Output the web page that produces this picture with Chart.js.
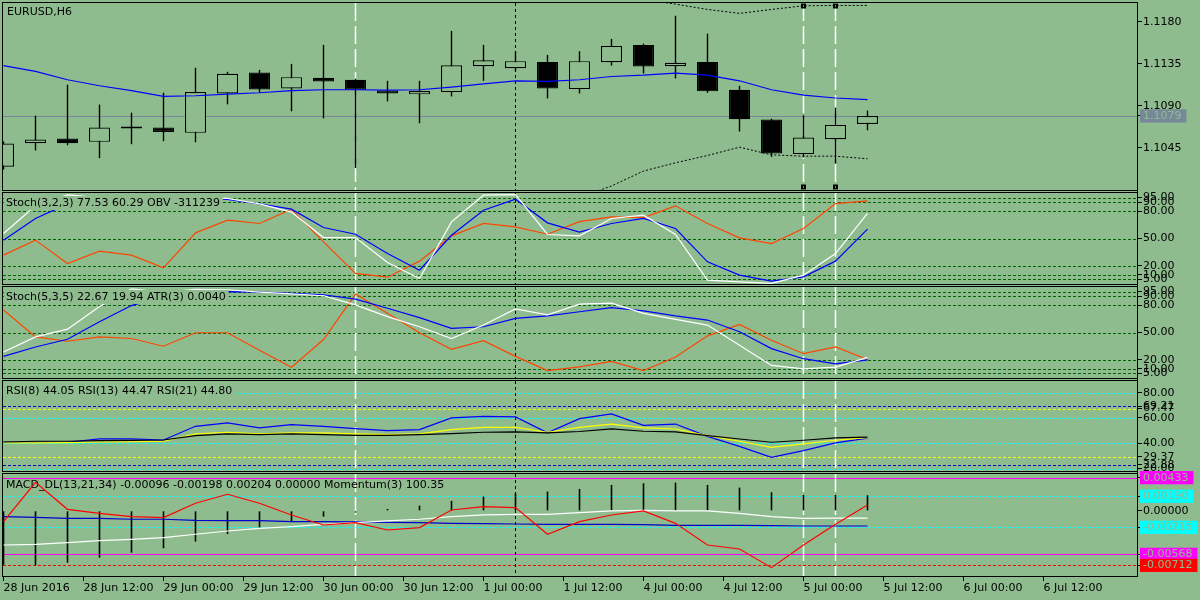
<!DOCTYPE html>
<html><head><meta charset="utf-8">
<script src="https://cdn.jsdelivr.net/npm/chart.js@4.4.1/dist/chart.umd.min.js"></script>
<style>
html,body{margin:0;padding:0;background:#8fbc8f;width:1200px;height:600px;overflow:hidden}
canvas{position:absolute;left:0;top:0}
</style></head><body>
<canvas id="c1" width="1200" height="600"></canvas>
<canvas id="c2" width="1200" height="600"></canvas>
<canvas id="c3" width="1200" height="600"></canvas>
<canvas id="c4" width="1200" height="600"></canvas>
<canvas id="c5" width="1200" height="600"></canvas>
<script>
// ---------- data ----------
const timeLabels = ['28 Jun 2016','28 Jun 12:00','29 Jun 00:00','29 Jun 12:00','30 Jun 00:00','30 Jun 12:00','1 Jul 00:00','1 Jul 12:00','4 Jul 00:00','4 Jul 12:00','5 Jul 00:00','5 Jul 12:00','6 Jul 00:00','6 Jul 12:00'];
const opens  = [1.10249,1.10501,1.10550,1.10515,1.10660,1.10668,1.10611,1.11033,1.11257,1.11086,1.11200,1.11179,1.11065,1.11023,1.11047,1.11324,1.11303,1.11370,1.11079,1.11367,1.11552,1.11324,1.11370,1.11072,1.10753,1.10384,1.10543,1.10707];
const highs  = [1.10520,1.10795,1.11126,1.10913,1.10827,1.11040,1.11307,1.11264,1.11285,1.11349,1.11552,1.11190,1.11168,1.11168,1.11701,1.11552,1.11484,1.11445,1.11484,1.11615,1.11566,1.11864,1.11672,1.11115,1.10763,1.10799,1.10881,1.10849];
const lows   = [1.10220,1.10423,1.10479,1.10341,1.10490,1.10522,1.10511,1.10916,1.11040,1.10842,1.10767,1.10234,1.10948,1.10714,1.11001,1.11168,1.11270,1.10980,1.11033,1.11331,1.11246,1.11193,1.11040,1.10625,1.10355,1.10348,1.10284,1.10639];
const closes = [1.10497,1.10540,1.10501,1.10668,1.10657,1.10621,1.11047,1.11243,1.11076,1.11207,1.11161,1.11072,1.11033,1.11058,1.11335,1.11388,1.11378,1.11086,1.11378,1.11541,1.11321,1.11360,1.11055,1.10756,1.10391,1.10561,1.10696,1.10792];
const maLine = [1.11331,1.11268,1.11179,1.11115,1.11062,1.11001,1.11008,1.11026,1.11040,1.11062,1.11072,1.11072,1.11069,1.11072,1.11101,1.11136,1.11168,1.11161,1.11179,1.11214,1.11228,1.11250,1.11228,1.11168,1.11072,1.11015,1.10984,1.10966];
const bandUpper = [null,null,null,null,null,null,null,null,null,null,null,null,null,null,null,null,null,null,null,1.12138,1.12038,1.11988,1.11931,1.11889,1.11931,1.11970,1.11974,1.11974];
const bandLower = [null,null,null,null,null,null,null,null,null,null,null,null,null,null,null,null,null,null,1.09919,1.10043,1.10203,1.10291,1.10369,1.10458,1.10376,1.10362,1.10362,1.10334];
const priceTicks = [1.1180,1.1135,1.1090,1.1045];

const stochA_main   = [55.5,85.9,98,95,95,95,95,94,88,79,51,51,23.6,6,68.3,97.6,98.3,54.4,53,72,75.6,54.4,4.2,2.4,0.6,9.7,33.5,77.53];
const stochA_signal = [48.2,72,88,92,94,95,95,93,88,82.2,62.1,54.7,33.5,15.2,53.6,81.1,93.2,67.2,57,66.5,72,61,24.4,9.7,3.1,7.9,25.1,60.29];
const stochA_obv    = [31.7,48.2,22.5,36.1,31.7,17.8,56.2,70.1,66.5,82.2,46.3,11.6,7.5,25.1,52.9,66.5,62.8,54.7,68.5,73.7,73,85.9,66.5,50.7,44.5,61,88.4,91.3];
const stochB_main   = [28.6,45.2,53.7,78.5,98,94,97.5,97,94.4,92.5,90.4,80.4,67.4,56.3,43.4,58.2,75.9,69.3,81.1,82.2,71.1,64.5,58.2,36,13.8,10.1,11.9,22.67];
const stochB_signal = [23.8,34.1,42.6,61.9,79.6,90,94,95,94.4,93,91.5,86.7,76.7,66.3,54.5,56.3,65.6,68.2,72.8,77.4,73.7,68.2,63.7,50.8,32.3,21.2,15.6,19.94];
const stochB_atr    = [74.8,45.2,40.4,45.2,43.4,34.9,49.7,49.7,30.4,11.9,42.3,92.2,71.1,49.7,31.5,41.1,23.8,8.2,12.3,18.2,8.2,23,46.3,58.9,41.5,26.7,34.1,20.4];
const stochLevels = [95,90,80,50,20,10,5];

const rsi8  = [40.8,40.8,40.8,43.4,43.4,42.6,53.4,56.1,52.1,54.7,53.4,51.6,50,50.8,60,61.3,60.8,48.2,59.5,63.2,54.2,55.2,45.5,37.6,28.9,34.2,40.3,44.05];
const rsi13 = [40.3,40.3,40.5,41,41.2,41.6,47.4,48.7,47.4,48.2,48.2,47.4,46.8,47.4,50.8,52.6,52.6,48.7,52.6,55.2,52.1,51.3,46,41.6,36.8,39.5,42.4,44.47];
const rsi21 = [41,41.6,41.6,42.1,42.3,42.6,46,47.4,46.8,47.4,46.8,46.3,46.3,46.8,47.6,48.7,49,48.2,49.3,51.3,49.5,49,46,43.4,40.8,42.4,44.2,44.8];
const rsiCyanLevels = [80,60,40,20];
const rsiBlueLevels = [69.21,22.88];
const rsiYellowLevels = [67.47,29.37];

const macdHist  = [-0.00705,-0.00712,-0.00677,-0.00611,-0.00546,-0.00489,-0.00402,-0.00302,-0.00219,-0.00141,-0.00076,-0.00023,0.00025,0.00068,0.00129,0.00186,0.00229,0.00251,0.00286,0.00338,0.00360,0.00369,0.00338,0.00303,0.00242,0.00207,0.00207,0.00204];
const macdRed   = [-0.00141,0.00373,0.00020,-0.00032,-0.00076,-0.00089,0.00099,0.00216,0.00099,-0.00054,-0.00185,-0.00154,-0.00250,-0.00219,0.00011,0.00055,0.00042,-0.00306,-0.00141,-0.00054,-0.00002,-0.00163,-0.00446,-0.00498,-0.00742,-0.00446,-0.00176,0.00077];
const macdWhite = [-0.00446,-0.00437,-0.00415,-0.00389,-0.00372,-0.00350,-0.00306,-0.00263,-0.00228,-0.00206,-0.00176,-0.00154,-0.00132,-0.00110,-0.00076,-0.00054,-0.00045,-0.00045,-0.00023,0,0.00005,0,0,-0.00032,-0.00076,-0.00098,-0.00096,-0.00096];
const macdBlue  = [-0.00076,-0.00085,-0.00098,-0.00098,-0.00110,-0.00110,-0.00124,-0.00128,-0.00128,-0.00141,-0.00141,-0.00145,-0.00150,-0.00154,-0.00163,-0.00167,-0.00172,-0.00176,-0.00176,-0.00176,-0.00180,-0.00189,-0.00189,-0.00189,-0.00193,-0.00198,-0.00198,-0.00198];
const macdMagentaLevels = [0.00433,-0.00568];
const macdCyanLevels = [0.00190,-0.00215];
const macdRedLevels = [-0.00712];

const whiteMarks = [11,25,26];
const separators = [16];

// ---------- view settings ----------
const BG = '#8fbc8f';
const xMin = -1 / 64;
const xMax = xMin + 35.4375;
const barsPerLabel = 2.5;
const FONT = '11px "DejaVu Sans"';
Chart.defaults.font.family = '"DejaVu Sans", sans-serif';
Chart.defaults.font.size = 11;
Chart.defaults.color = '#000';

const pts = arr => arr.map((v, i) => ({x: i, y: v}));
const lineDs = (arr, color, order, extra) => Object.assign({type: 'line', data: pts(arr), borderColor: color, borderWidth: 1.2, pointRadius: 0, tension: 0, order}, extra || {});
const lvl = (arr, color, dash) => arr.map(v => ({value: v, color, dash}));

function vline(ctx, x, a, i, color, dash, w) {
  const px = Math.floor(x.getPixelForValue(i)) + 0.5;
  ctx.strokeStyle = color; ctx.lineWidth = w; ctx.setLineDash(dash);
  ctx.beginPath(); ctx.moveTo(px, a.top); ctx.lineTo(px, a.bottom); ctx.stroke();
}
function label(ctx, a, o) {
  ctx.font = FONT; ctx.textBaseline = 'middle'; ctx.textAlign = 'left';
  const cy = a.top + o.textDy;
  if (o.box) {
    const w = ctx.measureText(o.text).width;
    ctx.fillStyle = BG; ctx.fillRect(a.left + 1, cy - 7, w + 5, 14);
  }
  ctx.fillStyle = '#000'; ctx.fillText(o.text, a.left + o.textDx, cy);
}

const decor = {
  id: 'decor',
  beforeDatasetsDraw(chart, args, o) {
    const {ctx, chartArea: a, scales: {x, y}} = chart;
    ctx.save();
    ctx.beginPath(); ctx.rect(a.left, a.top, a.right - a.left, a.bottom - a.top); ctx.clip();
    (o.levels || []).forEach(l => {
      const py = Math.round(y.getPixelForValue(l.value)) + 0.5;
      ctx.strokeStyle = l.color; ctx.lineWidth = 1; ctx.setLineDash(l.dash);
      ctx.beginPath(); ctx.moveTo(a.left, py); ctx.lineTo(a.right, py); ctx.stroke();
    });
    whiteMarks.forEach(i => vline(ctx, x, a, i, '#ffffff', [18, 5], 1.5));
    separators.forEach(i => vline(ctx, x, a, i, '#000000', [3, 3], 1));
    if (o.textBehind) label(ctx, a, o);
    ctx.restore();
  },
  afterDatasetsDraw(chart, args, o) {
    const {ctx, chartArea: a, scales: {x}} = chart;
    ctx.save();
    if (!o.textBehind) label(ctx, a, o);
    if (o.squares) {
      [25, 26].forEach(i => {
        const px = Math.floor(x.getPixelForValue(i)) + 0.5;
        [a.top + 3, a.bottom - 3].forEach(py => {
          ctx.fillStyle = '#000'; ctx.fillRect(px - 2.5, py - 2.5, 5, 5);
          ctx.fillStyle = '#fff'; ctx.fillRect(px - 0.5, py - 0.5, 1, 1);
        });
      });
    }
    ctx.restore();
  },
  afterDraw(chart, args, o) {
    const {ctx, chartArea: a} = chart;
    ctx.save();
    ctx.strokeStyle = '#000'; ctx.lineWidth = 1; ctx.setLineDash([]);
    ctx.strokeRect(a.left - 0.5, a.top - 0.5, a.right - a.left + 1, a.bottom - a.top + 1);
    if (o.fullRight) {
      ctx.beginPath(); ctx.moveTo(a.right + 0.5, 2.5); ctx.lineTo(a.right + 0.5, a.bottom); ctx.stroke();
    }
    ctx.restore();
  }
};

function xScale(show) {
  return {
    type: 'linear', min: xMin, max: xMax, offset: false, display: show,
    afterBuildTicks: s => { s.ticks = timeLabels.map((_, k) => ({value: k * barsPerLabel})); },
    afterFit: s => { if (show) s.height = 24; s.paddingLeft = 0; s.paddingRight = 0; },
    grid: {display: show, drawOnChartArea: false, drawTicks: true, tickLength: 5, color: '#000', offset: false},
    border: {display: show, color: '#000'},
    ticks: {autoSkip: false, maxRotation: 0, minRotation: 0, align: 'start', padding: 1, callback: (v, i) => timeLabels[i]}
  };
}
function yScale(min, max, ticks, dec, boxes) {
  return {
    type: 'linear', position: 'right', min, max,
    afterBuildTicks: s => { s.ticks = ticks.map(v => ({value: v})); },
    afterFit: s => { s.width = 63; s.paddingTop = 0; s.paddingBottom = 0; },
    grid: {drawOnChartArea: false, drawTicks: true, tickLength: 5, color: '#000'},
    border: {display: true, color: '#000'},
    ticks: {
      autoSkip: false, padding: 1,
      callback: v => Number(v).toFixed(dec),
      showLabelBackdrop: true,
      backdropColor: c => (boxes && boxes[c.index]) || 'rgba(0,0,0,0)',
      backdropPadding: {left: 3, right: 5, top: 0, bottom: 0},
      color: c => (boxes && boxes[c.index]) ? BG : '#000'
    }
  };
}
function panel(id, top, bottom, y, datasets, deco, showX) {
  return new Chart(document.getElementById(id), {
    type: 'line',
    data: {datasets},
    options: {
      responsive: false, animation: false, devicePixelRatio: 1, events: [],
      layout: {padding: {left: 3, right: 0, top: top, bottom: showX ? 0 : 600 - bottom}},
      plugins: {legend: {display: false}, tooltip: {enabled: false}, decor: deco},
      scales: {x: xScale(showX), y}
    },
    plugins: [decor]
  });
}

// ---------- panel 1: price ----------
const lastPrice = closes[closes.length - 1];
panel('c1', 3, 190,
  yScale(1.1000, 1.1200, priceTicks.concat([lastPrice]), 4, [null, null, null, null, '#778899']),
  [
    lineDs(maLine, '#0000ff', 1),
    lineDs(bandUpper, '#000', 2, {borderWidth: 1, borderDash: [2, 2]}),
    lineDs(bandLower, '#000', 2, {borderWidth: 1, borderDash: [2, 2]}),
    {type: 'bar', data: opens.map((o, i) => ({x: i, y: [o, closes[i]]})), grouped: false, barThickness: 21, minBarLength: 2, inflateAmount: 0,
      backgroundColor: opens.map((o, i) => closes[i] >= o ? BG : '#000'), borderColor: '#000', borderWidth: 1.2, borderSkipped: false, order: 4},
    {type: 'bar', data: lows.map((l, i) => ({x: i, y: [l, highs[i]]})), grouped: false, barThickness: 1.4, inflateAmount: 0,
      backgroundColor: '#000', borderWidth: 0, order: 5}
  ],
  {levels: [{value: lastPrice, color: '#778899', dash: []}], text: 'EURUSD,H6', textDx: 4, textDy: 9, box: false, squares: true},
  false);

// ---------- panel 2: Stoch(3,2,3) ----------
panel('c2', 193, 284,
  yScale(0, 100, stochLevels, 2, null),
  [lineDs(stochA_obv, '#ff4500', 3), lineDs(stochA_signal, '#0000ff', 2), lineDs(stochA_main, '#ffffff', 1)],
  {levels: lvl(stochLevels, '#006400', [3, 2]), text: 'Stoch(3,2,3) 77.53 60.29 OBV -311239', textDx: 3, textDy: 10, box: true},
  false);

// ---------- panel 3: Stoch(5,3,5) ----------
panel('c3', 287, 378,
  yScale(0, 100, stochLevels, 2, null),
  [lineDs(stochB_atr, '#ff4500', 3), lineDs(stochB_signal, '#0000ff', 2), lineDs(stochB_main, '#ffffff', 1)],
  {levels: lvl(stochLevels, '#006400', [3, 2]), text: 'Stoch(5,3,5) 22.67 19.94 ATR(3) 0.0040', textDx: 3, textDy: 10, box: true},
  false);

// ---------- panel 4: RSI ----------
panel('c4', 381, 471,
  yScale(18.1, 89.2, [80, 69.21, 67.47, 60, 40, 29.37, 22.88, 20], 2, null),
  [lineDs(rsi8, '#0000ff', 3), lineDs(rsi13, '#ffff00', 2), lineDs(rsi21, '#000000', 1)],
  {levels: lvl(rsiCyanLevels, '#00ffff', [3, 2]).concat(lvl(rsiBlueLevels, '#0000cd', [3, 2]), lvl(rsiYellowLevels, '#ffff00', [3, 2])),
   text: 'RSI(8) 44.05 RSI(13) 44.47 RSI(21) 44.80', textDx: 3, textDy: 10.5, box: true},
  false);

// ---------- panel 5: MACD ----------
panel('c5', 474, 576,
  yScale(-0.00851, 0.00481, [0.00433, 0.00190, 0, -0.00215, -0.00568, -0.00712], 5, ['#ff00ff', '#00ffff', null, '#00ffff', '#ff00ff', '#ff0000']),
  [
    {type: 'bar', data: pts(macdHist), grouped: false, barThickness: 1.6, inflateAmount: 0, backgroundColor: '#000', borderWidth: 0, order: 4},
    lineDs(macdBlue, '#0000cd', 3),
    lineDs(macdWhite, '#ffffff', 2),
    lineDs(macdRed, '#ff0000', 1)
  ],
  {levels: lvl(macdMagentaLevels, '#ff00ff', []).concat(lvl(macdCyanLevels, '#00ffff', [3, 2]), lvl(macdRedLevels, '#ff0000', [3, 2])),
   text: 'MACD_DL(13,21,34) -0.00096 -0.00198 0.00204 0.00000 Momentum(3) 100.35', textDx: 3, textDy: 11.5, box: false, textBehind: true, fullRight: true},
  true);
</script>
</body></html>
